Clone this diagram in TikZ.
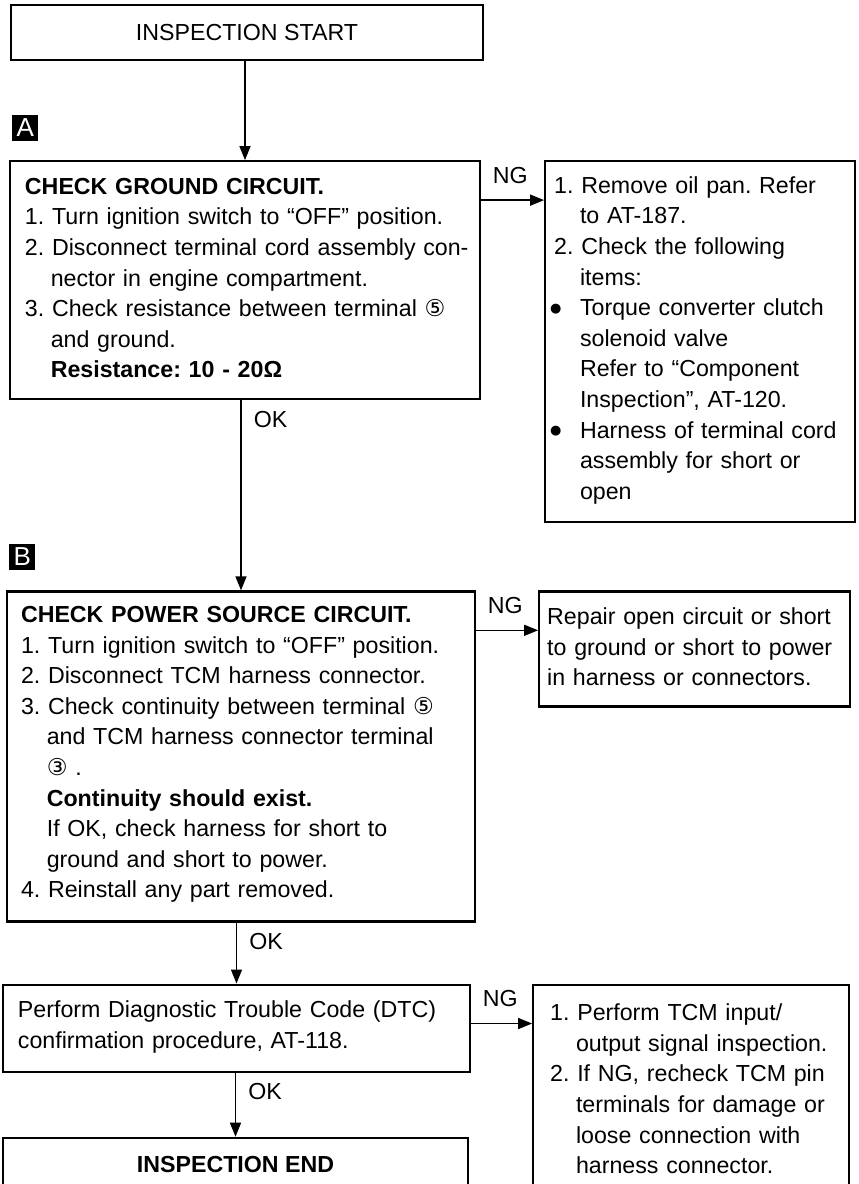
\documentclass[tikz,border=0pt]{standalone}
\usepackage{fontspec}
\setmainfont{Liberation Sans}
\newfontfamily\circfont{DejaVu Sans}
\usetikzlibrary{arrows.meta, positioning}

\frenchspacing
\newcommand{\bodyfont}{\fontsize{11.6}{15.3}\selectfont}
\newcommand{\indt}{\hspace*{12.9pt}}
\newcommand{\bulit}{\makebox[12.9pt][l]{\hspace*{-2pt}\raisebox{1.6pt}{\circfont\fontsize{6.5}{6.5}\selectfont ●}}}
\newcommand{\circnum}[1]{{\circfont #1}}

\begin{document}
\begin{tikzpicture}[
    x=0.5pt, y=-0.5pt,
    stepbox/.style={rectangle, draw=black, line width=1.1pt, inner xsep=7.5pt, inner ysep=0pt, text width=220pt, align=left, font=\bodyfont},
    fixbox/.style={rectangle, draw=black, line width=1.1pt, inner xsep=4.5pt, inner ysep=0pt, text width=146pt, align=left, font=\bodyfont},
    endbox/.style={rectangle, draw=black, line width=1.1pt, minimum width=236pt, minimum height=27.5pt, align=center, font=\bodyfont},
    lettag/.style={rectangle, fill=black, text=white, minimum size=13pt, inner sep=0pt, font=\fontsize{13}{13}\selectfont},
    arrow/.style={-{Triangle[length=7pt, width=5.5pt]}, line width=0.75pt},
    oklbl/.style={font=\bodyfont, inner xsep=6pt, inner ysep=5pt},
    nglbl/.style={font=\bodyfont, inner xsep=5.5pt, inner ysep=8pt}
]
    \useasboundingbox (0,0) rectangle (858,1184);

    % Cajas
    \node[endbox] (start) at (247,32.5) {INSPECTION START};

    \node[stepbox, below=49.5pt of start, xshift=-1pt, text height=16.5pt, text depth=102.5pt] (ground) {{\bfseries CHECK GROUND CIRCUIT.}\\1. Turn ignition switch to “OFF” position.\\\mbox{2. Disconnect terminal cord assembly con-}\\\indt nector in engine compartment.\\3. Check resistance between terminal \circnum{⑤}\\\indt and ground.\\\indt {\bfseries Resistance: 10 - 20Ω}};
    \node[fixbox, right=31.5pt of ground.north east, anchor=north west, text height=16pt, text depth=164.5pt] (oilpan) {1. Remove oil pan. Refer\\\indt to AT-187.\\2. Check the following\\\indt items:\\\bulit Torque converter clutch\\\indt solenoid valve\\\indt Refer to “Component\\\indt Inspection”, AT-120.\\\bulit Harness of terminal cord\\\indt assembly for short or\\\indt open};
    \node[lettag, above right=9.5pt and 1.5pt of ground.north west] (tagA) {A};

    \node[stepbox, below=95pt of ground, xshift=-2pt, inner xsep=7pt, text height=15.5pt, text depth=149.5pt] (power) {{\bfseries CHECK POWER SOURCE CIRCUIT.}\\1. Turn ignition switch to “OFF” position.\\2. Disconnect TCM harness connector.\\3. Check continuity between terminal \circnum{⑤}\\\indt and TCM harness connector terminal\\\indt \circnum{③} .\\\indt {\bfseries Continuity should exist.}\\\indt If OK, check harness for short to\\\indt ground and short to power.\\4. Reinstall any part removed.};
    \node[fixbox, right=31pt of power.north east, anchor=north west, inner xsep=4pt, text width=147.5pt, text height=16.5pt, text depth=41pt] (repair) {Repair open circuit or short\\to ground or short to power\\in harness or connectors.};
    \node[lettag, above right=10pt and 1.5pt of power.north west] (tagB) {B};

    \node[stepbox, below=30.5pt of power, xshift=-2.25pt, text width=218.5pt, text height=16.5pt, text depth=27pt] (dtc) {Perform Diagnostic Trouble Code (DTC)\\confirmation procedure, AT-118.};
    \node[fixbox, right=30.5pt of dtc.north east, anchor=north west, inner xsep=8.5pt, text width=141pt, text height=18pt, text depth=92.5pt] (tcmcheck) {1. Perform TCM input/\\\indt output signal inspection.\\2. If NG, recheck TCM pin\\\indt terminals for damage or\\\indt loose connection with\\\indt harness connector.};

    \node[endbox, below=32pt of dtc, xshift=-0.5pt, minimum width=232.5pt, minimum height=26.5pt, font=\bodyfont\bfseries] (finish) {INSPECTION END};

    % Flechas
    \draw[arrow] (start.south -| ground.north) -- (ground.north);
    \draw[arrow] (ground.south -| power.north) -- node[oklbl, below right, pos=0] {OK} (power.north);
    \draw[arrow] (power.south -| dtc.north) -- node[oklbl, below right, pos=0] {OK} (dtc.north);
    \draw[arrow] (dtc.south -| finish.north) -- node[oklbl, below right, pos=0] {OK} (finish.north);
    \draw[arrow] ([yshift=-20pt]ground.north east) -- node[nglbl, above right, pos=0] {NG} ([yshift=-20pt]oilpan.north west);
    \draw[arrow] ([yshift=-20pt]power.north east) -- node[nglbl, above right, pos=0] {NG} ([yshift=-20pt]repair.north west);
    \draw[arrow] ([yshift=-20pt]dtc.north east) -- node[nglbl, above right, pos=0] {NG} ([yshift=-20pt]tcmcheck.north west);

\end{tikzpicture}
\end{document}
